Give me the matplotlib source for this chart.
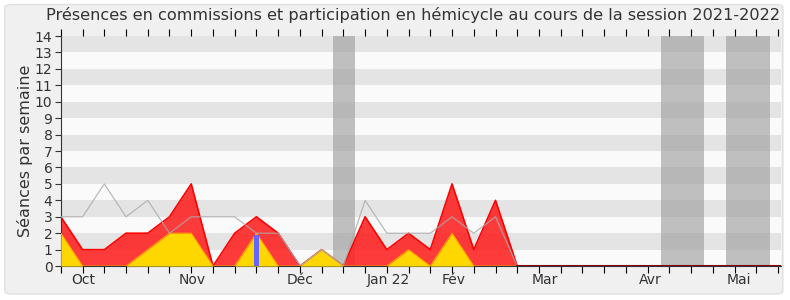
import numpy as np
import matplotlib
matplotlib.use("Agg")
import matplotlib.pyplot as plt
from matplotlib.patches import FancyBboxPatch

# weekly values, week 0 = first week of the session
commissions = [3, 1, 1, 2, 2, 3, 5, 0, 2, 3, 2, 0, 1, 0, 3, 1, 2, 1, 5, 1, 4, 0,
               0, 0, 0, 0, 0, 0, 0, 0, 0, 0, 0, 0]
hemicycle = [2, 0, 0, 0, 1, 2, 2, 0, 0, 2, 0, 0, 1, 0, 0, 0, 1, 0, 2, 0, 0, 0,
             0, 0, 0, 0, 0, 0, 0, 0, 0, 0, 0, 0]
mediane = [3, 3, 5, 3, 4, 2, 3, 3, 3, 2, 2, 0, 1, 0, 4, 2, 2, 2, 3, 2, 3, 0,
           0, 0, 0, 0, 0, 0, 0, 0, 0, 0, 0, 0]
question_week = [9]
question_value = [1.9]
vacances = [(12.5, 13.55), (27.6, 29.6), (30.6, 32.65)]
mois = ['Oct', 'Nov', 'Déc', 'Jan 22', 'Fév', 'Mar', 'Avr', 'Mai']
mois_pos = [1.05, 6.05, 11.0, 15.05, 18.05, 22.25, 27.1, 31.2]

weeks = np.arange(len(commissions))

fig = plt.figure(figsize=(7.9, 3.0), dpi=100)
fig.patch.set_facecolor('white')
fig.patches.append(FancyBboxPatch((0.006, 0.02), 0.985, 0.965, boxstyle='round,pad=0,rounding_size=0.01',
                                  transform=fig.transFigure, facecolor='#f0f0f0',
                                  edgecolor='#e0e0e0', linewidth=1, zorder=-10))
ax = fig.add_axes([0.077, 0.113, 0.912, 0.767])
ax.set_facecolor('#f0f0f0')

xmin, xmax = 0, 33.15
for k in range(14):
    ax.axhspan(k, k + 1, color='#e4e4e4' if k % 2 else '#fafafa', zorder=0, lw=0)
for a, b in vacances:
    ax.axvspan(a, b, color='#a0a0a0', alpha=0.65, zorder=1, lw=0)

ax.fill_between(weeks, commissions, color='#ff2020', alpha=0.88, lw=0, zorder=2)
ax.plot(weeks, commissions, color='#ff0000', lw=1.2, zorder=3)
ax.fill_between(weeks, hemicycle, color='#ffd700', lw=0, zorder=4)
ax.plot(weeks, hemicycle, color='#ffa500', lw=0.8, zorder=4)
ax.plot(weeks, mediane, color='#aaaaaa', lw=0.9, alpha=0.8, zorder=5)
ax.bar(question_week, question_value, width=0.25, color='#6666ff', zorder=6)
ax.plot([21, xmax], [0, 0], color='#8b0000', lw=1.5, zorder=6)

ax.set_xlim(xmin, xmax)
ax.set_ylim(0, 14)
ax.set_yticks(range(15))
ax.tick_params(axis='y', labelsize=10, length=4, colors='#333333', pad=2)
ax.xaxis.remove_overlapping_locs = False
ax.set_xticks(weeks)
ax.set_xticklabels([])
ax.tick_params(axis='x', which='major', length=5, top=True, direction='out')
ax.set_xticks(mois_pos, minor=True)
ax.set_xticklabels(mois, minor=True)
ax.tick_params(axis='x', which='minor', length=0, labelsize=10, colors='#333333', pad=5)
for s in ['top', 'right']:
    ax.spines[s].set_visible(False)
ax.spines['left'].set_color('#333333')
ax.spines['bottom'].set_color('#333333')

ax.set_ylabel('Séances par semaine', fontsize=11.5, color='#333333', labelpad=1)
fig.text(0.523, 0.95, 'Présences en commissions et participation en hémicycle au cours de la session 2021-2022',
         fontsize=11.6, color='#333333', ha='center', va='center')

fig.savefig('out.png', dpi=100, facecolor=fig.get_facecolor())
